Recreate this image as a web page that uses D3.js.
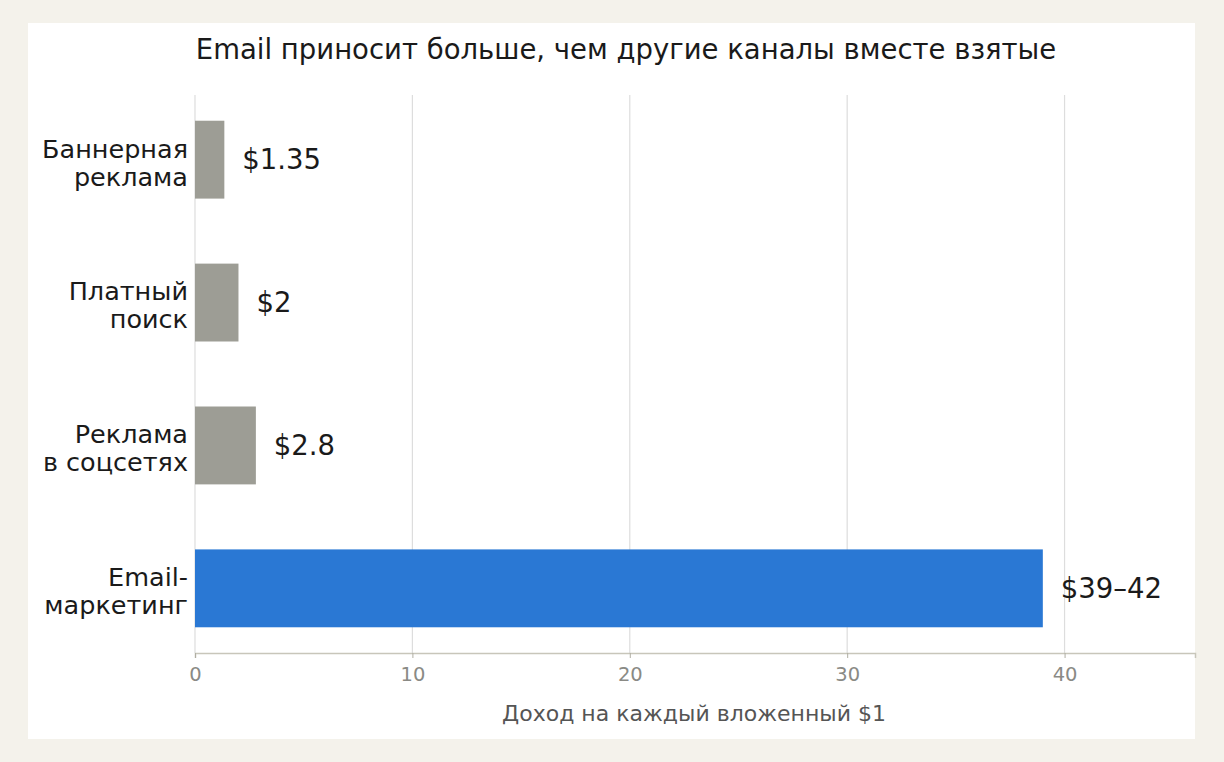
<!DOCTYPE html>
<html lang="ru">
<head>
    <meta charset="UTF-8">
    <title>Email ROI</title>
    <script src="https://d3js.org/d3.v7.min.js"></script>
    <style>
        body { margin: 0; background: #f4f2eb; }
        svg { display: block; font-family: "DejaVu Sans", sans-serif; }
    </style>
</head>
<body>
    <svg width="1224" height="762"></svg>

    <script>
        // data
        const channels = [["Баннерная", "реклама"], ["Платный", "поиск"], ["Реклама", "в соцсетях"], ["Email-", "маркетинг"]];
        const values = [1.35, 2, 2.8, 39];
        const valueLabels = ["$1.35", "$2", "$2.8", "$39–42"];
        const xTicks = [0, 10, 20, 30, 40];
        const keys = channels.map(c => c.join(" "));

        const margin = { top: 95, right: 29, bottom: 109, left: 195 },
              width = 1224 - margin.left - margin.right,
              height = 762 - margin.top - margin.bottom;

        const root = d3.select("svg");

        // white card
        root.append("rect")
            .attr("x", 28).attr("y", 23)
            .attr("width", 1167).attr("height", 716)
            .attr("fill", "#ffffff");

        root.append("text")
            .attr("x", 626)
            .attr("y", 59)
            .attr("text-anchor", "middle")
            .style("font-size", "27.5px")
            .attr("fill", "#1a1a1a")
            .text("Email приносит больше, чем другие каналы вместе взятые");

        const svg = root.append("g")
            .attr("transform", `translate(${margin.left},${margin.top})`);

        const x = d3.scaleLinear().domain([0, 46]).range([0, width]);
        const y = d3.scaleBand().domain(keys).range([0, height])
            .paddingInner(0.455).paddingOuter(0.18);

        // grid
        svg.append("g")
            .selectAll("line")
            .data(xTicks)
            .enter()
            .append("line")
            .attr("x1", d => x(d)).attr("x2", d => x(d))
            .attr("y1", 0).attr("y2", height)
            .attr("stroke", "#dddddd")
            .attr("stroke-width", 1.2);

        // x axis
        const xAxis = svg.append("g")
            .attr("transform", `translate(0, ${height})`)
            .call(d3.axisBottom(x).tickValues(xTicks).tickSize(5).tickPadding(9));
        xAxis.select(".domain").attr("stroke", "#c8c6ba").attr("stroke-width", 1.5);
        xAxis.selectAll(".tick line").attr("stroke", "#b0aea3");
        xAxis.selectAll("text")
            .attr("fill", "#8a8a85")
            .style("font-size", "19.5px")
            .style("font-family", "DejaVu Sans, sans-serif");

        svg.append("text")
            .attr("x", 694 - margin.left)
            .attr("y", height + 68)
            .attr("text-anchor", "middle")
            .attr("fill", "#555555")
            .style("font-size", "22px")
            .text("Доход на каждый вложенный $1");

        // bars
        svg.selectAll("rect.bar")
            .data(values)
            .enter()
            .append("rect")
            .attr("class", "bar")
            .attr("x", x(0))
            .attr("y", (d, i) => y(keys[i]))
            .attr("width", d => x(d) - x(0))
            .attr("height", y.bandwidth())
            .attr("fill", (d, i) => i === 3 ? "#2a78d4" : "#9d9d95");

        // value labels
        svg.selectAll("text.val")
            .data(values)
            .enter()
            .append("text")
            .attr("class", "val")
            .attr("x", d => x(d) + 18)
            .attr("y", (d, i) => y(keys[i]) + y.bandwidth() / 2)
            .attr("dy", "0.35em")
            .attr("fill", "#1a1a1a")
            .style("font-size", "27.5px")
            .text((d, i) => valueLabels[i]);

        // category labels (two lines)
        const cat = svg.selectAll("text.cat")
            .data(channels)
            .enter()
            .append("text")
            .attr("class", "cat")
            .attr("text-anchor", "end")
            .attr("fill", "#1a1a1a")
            .style("font-size", "25.5px");
        cat.each(function(d, i) {
            const cy = y(keys[i]) + y.bandwidth() / 2;
            d3.select(this).selectAll("tspan")
                .data(d)
                .enter()
                .append("tspan")
                .attr("x", -7)
                .attr("y", (t, j) => cy + (j === 0 ? -11 : 17))
                .attr("dy", "0.35em")
                .text(t => t);
        });
    </script>
</body>
</html>
